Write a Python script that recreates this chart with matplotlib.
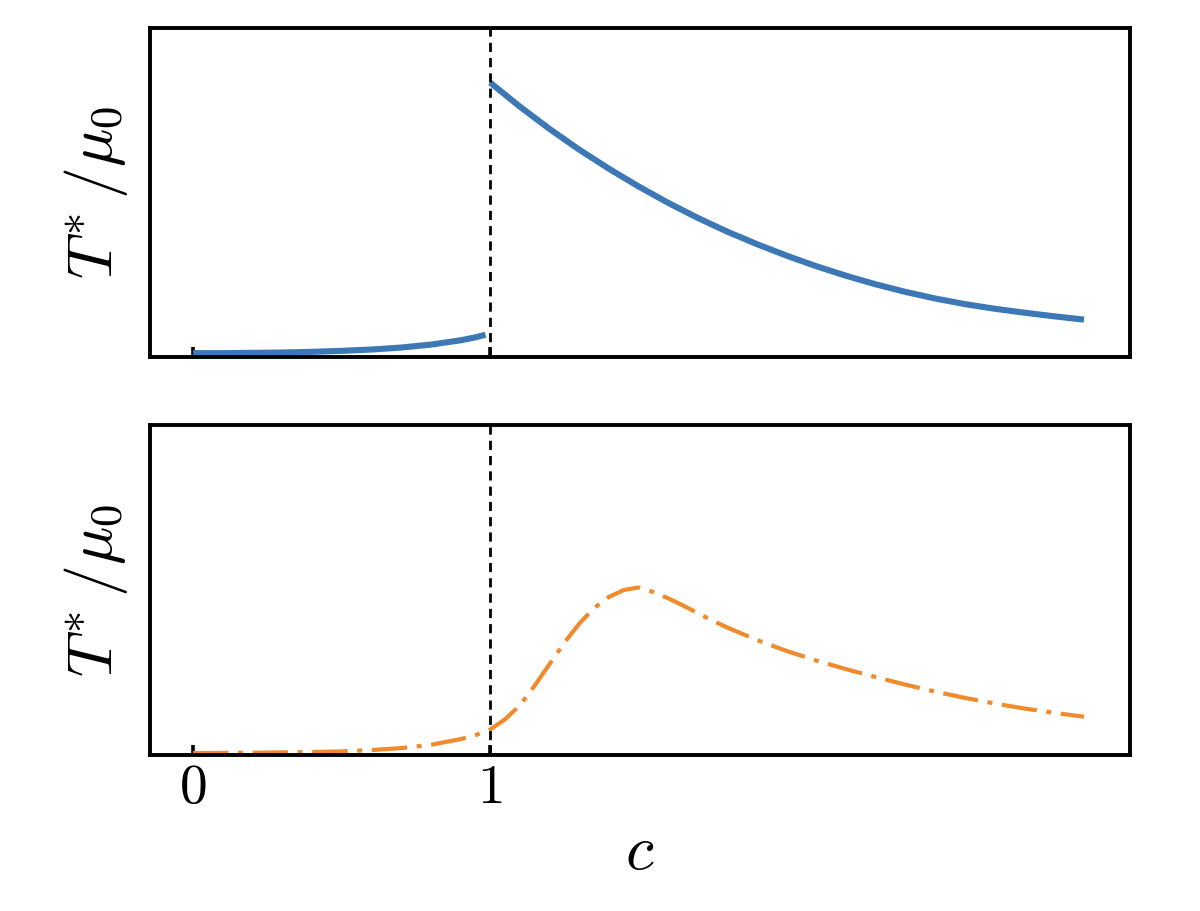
import matplotlib
matplotlib.use("Agg")
import matplotlib.pyplot as plt

plt.rcParams['mathtext.fontset'] = 'cm'

# --- data (y in units of the axis range) ---
c_top_left = [0.0, 0.1, 0.2, 0.3, 0.4, 0.5, 0.6, 0.7, 0.8, 0.9, 0.95, 0.985]
T_top_left = [0.012, 0.012, 0.013, 0.014, 0.016, 0.019, 0.023, 0.029, 0.038, 0.051, 0.060, 0.068]
c_top_right = [1.0, 1.1, 1.2, 1.3, 1.4, 1.5, 1.6, 1.7, 1.8, 1.9, 2.0, 2.1, 2.2, 2.3,
               2.4, 2.5, 2.6, 2.7, 2.8, 2.9, 3.0]
T_top_right = [0.835, 0.762, 0.694, 0.631, 0.573, 0.519, 0.469, 0.423, 0.381, 0.343,
               0.308, 0.276, 0.247, 0.221, 0.198, 0.178, 0.161, 0.147, 0.135, 0.124, 0.114]

c_bottom = [0.0, 0.2, 0.4, 0.5, 0.6, 0.7, 0.8, 0.9, 0.95, 1.0, 1.05, 1.1, 1.15, 1.2, 1.25,
            1.3, 1.35, 1.4, 1.45, 1.5, 1.55, 1.6, 1.65, 1.7, 1.75, 1.8, 1.9, 2.0, 2.1,
            2.2, 2.3, 2.4, 2.5, 2.6, 2.7, 2.8, 2.9, 3.0]
T_bottom = [0.006, 0.007, 0.009, 0.011, 0.015, 0.021, 0.031, 0.048, 0.060, 0.077, 0.108,
            0.150, 0.210, 0.275, 0.340, 0.398, 0.445, 0.479, 0.500, 0.508, 0.494, 0.475,
            0.453, 0.430, 0.407, 0.386, 0.348, 0.315, 0.286, 0.260, 0.236, 0.213, 0.192,
            0.173, 0.156, 0.141, 0.128, 0.116]

c_critical = 1.0
xticks = [0, 1]
xtick_labels = [r'$\mathsf{0}$', r'$\mathsf{1}$']
ylabel = r'$T^{*}\,/\mu_0$'
xlabel = r'$c$'

blue = '#3b78b5'
orange = '#f08a2c'

fig = plt.figure(figsize=(12, 9.11), dpi=100)
ax1 = fig.add_axes([0.125, 0.608, 0.8167, 0.361])
ax2 = fig.add_axes([0.125, 0.1712, 0.8167, 0.3622])

ax1.plot(c_top_left, T_top_left, color=blue, lw=4.4, solid_capstyle='butt')
ax1.plot(c_top_right, T_top_right, color=blue, lw=4.4, solid_capstyle='butt')
ax2.plot(c_bottom, T_bottom, color=orange, lw=3.0,
         linestyle=(0, (8.5, 2.3, 1.2, 2.3)))

for ax in (ax1, ax2):
    ax.axvline(c_critical, color='black', lw=2.0, linestyle=(0, (3.3, 2.2)), zorder=3)
    ax.set_xlim(-0.145, 3.155)
    ax.set_ylim(0, 1)
    ax.set_yticks([])
    ax.set_xticks(xticks)
    ax.tick_params(axis='x', direction='in', length=7, width=2.6, pad=4,
                   labelsize=40, top=False)
    for s in ax.spines.values():
        s.set_linewidth(2.8)
    ax.set_ylabel(ylabel, fontsize=46)
    ax.yaxis.set_label_coords(-0.02, 0.5)

ax1.set_xticklabels([])
ax2.set_xticklabels(xtick_labels)
ax2.set_xlabel(xlabel, fontsize=46, labelpad=4)

fig.savefig('out.png', dpi=100)
